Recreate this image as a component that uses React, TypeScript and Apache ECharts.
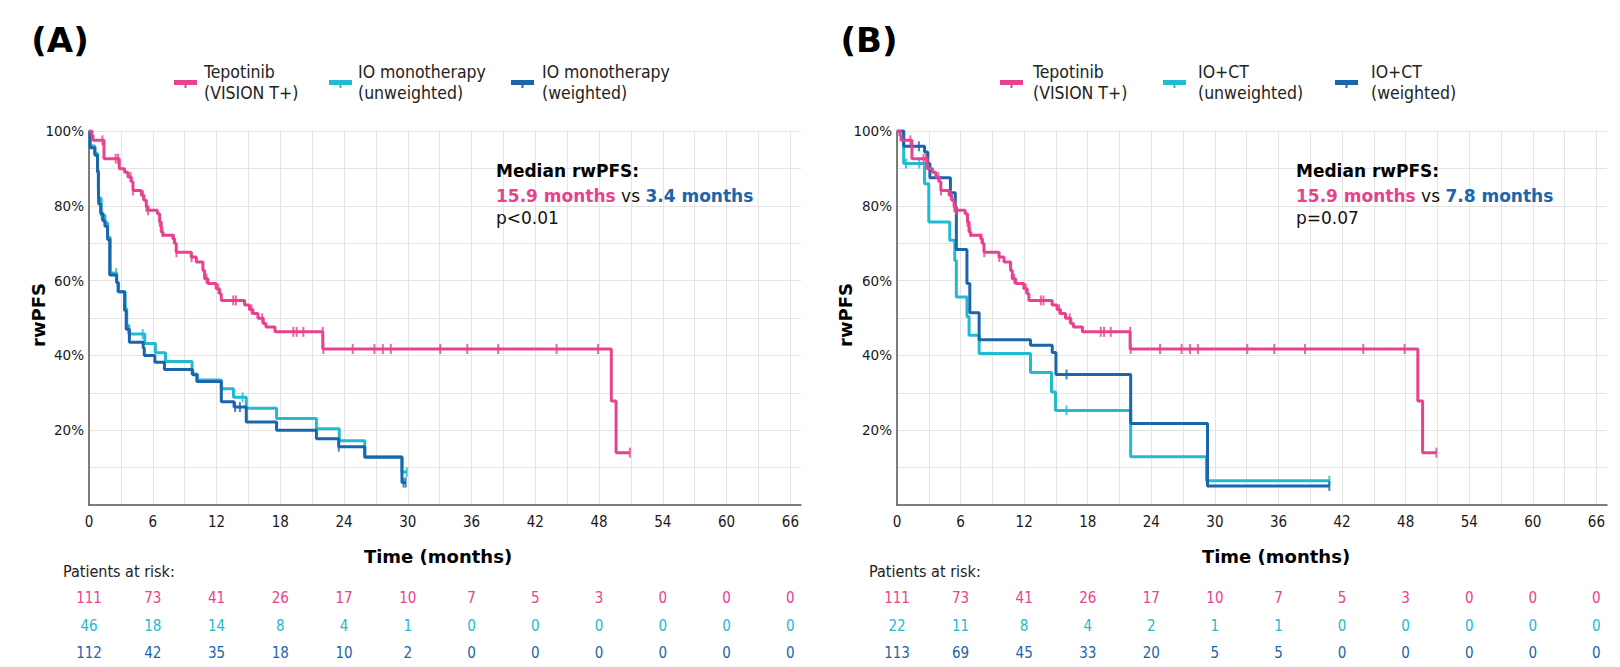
import React, { useEffect, useRef } from 'react';
import * as echarts from 'echarts';

// ---------- colours ----------
const PINK = '#E8418F';
const TEAL = '#22BAD0';
const BLUE = '#1B65AD';

// ---------- Tepotinib (VISION T+) : same curve in both panels ----------
const tepoTime = [0, 0.28, 0.38, 1.41, 2.85, 3.35, 3.67, 3.98, 4.14, 4.92, 5.17, 5.39, 5.55, 6.43, 6.65, 6.8, 6.96, 7.9, 8.06, 8.21, 9.62, 10.1, 10.72, 10.88, 11.19, 11.97, 12.29, 12.45, 14.64, 15.1, 15.42, 15.9, 16.4, 16.65, 17.5, 22.0, 49.15, 49.6, 50.9];
const tepoSurv = [100, 98.8, 97.5, 92.6, 89.9, 89.0, 87.7, 86.4, 84.1, 82.8, 81.5, 79.7, 78.8, 77.9, 75.7, 73.0, 72.1, 71.2, 69.9, 67.6, 66.3, 65.0, 62.7, 60.5, 59.2, 57.8, 56.5, 54.7, 53.5, 52.3, 51.2, 49.9, 48.5, 47.6, 46.3, 41.7, 27.8, 14.0, 14.0];
const tepoCensorTime = [1.26, 2.51, 2.73, 3.9, 4.15, 5.09, 5.4, 5.56, 6.66, 6.91, 7.98, 8.23, 9.65, 11.06, 12.16, 13.57, 13.82, 15.3, 16.3, 19.23, 19.54, 20.17, 22.0, 22.05, 24.82, 26.86, 27.65, 28.4, 33.05, 35.6, 38.5, 44.0, 47.9, 50.9];
const tepoCensorSurv = [97.5, 92.6, 92.6, 87.7, 84.1, 82.8, 79.7, 78.8, 75.7, 73.0, 71.2, 67.6, 66.3, 60.5, 57.8, 54.7, 54.7, 52.3, 49.9, 46.3, 46.3, 46.3, 46.3, 41.7, 41.7, 41.7, 41.7, 41.7, 41.7, 41.7, 41.7, 41.7, 41.7, 14.0];

// ---------- Panel A: IO monotherapy ----------
const ioUnwTime = [0, 0.1, 0.55, 0.8, 0.9, 1.15, 1.5, 1.75, 2.0, 2.6, 2.75, 3.4, 3.55, 3.75, 5.25, 6.25, 7.2, 9.7, 10.2, 12.45, 13.6, 14.8, 17.65, 21.4, 23.55, 25.95, 29.45, 29.9];
const ioUnwSurv = [100, 96, 94, 89.5, 82, 77.5, 75.5, 71.5, 62, 59.5, 57, 52.5, 48, 45.7, 43.2, 40.7, 38.4, 35, 33.4, 31.1, 28.8, 25.9, 23.1, 20.4, 17.2, 12.9, 8.8, 8.8];
const ioUnwCensorTime = [1.2, 2.55, 5.05, 14.45, 29.9];
const ioUnwCensorSurv = [77.5, 62, 45.7, 28.8, 8.8];

const ioWTime = [0, 0.1, 0.55, 0.8, 0.88, 0.92, 1.1, 1.3, 1.5, 1.75, 1.95, 2.6, 2.75, 3.35, 3.5, 3.8, 5.1, 5.2, 6.2, 7.1, 9.75, 10.15, 12.45, 13.65, 14.8, 17.65, 21.4, 23.5, 25.95, 29.45, 29.8];
const ioWSurv = [100, 95.5, 93.5, 89, 85, 80.5, 78, 76, 74.5, 71, 61.5, 59.5, 57, 52, 47, 43.5, 42, 40, 38.2, 36.2, 34.8, 33, 27.6, 26.2, 22.2, 20, 17.7, 15.6, 12.8, 6.0, 6.0];
const ioWCensorTime = [13.75, 14.2, 23.5, 29.6, 29.8];
const ioWCensorSurv = [26.2, 26.2, 15.6, 6.0, 6.0];

// ---------- Panel B: IO+CT ----------
const ioctUnwTime = [0, 0.63, 2.6, 3.0, 4.98, 5.45, 5.6, 6.6, 6.8, 7.75, 12.6, 14.58, 14.96, 22.05, 29.2, 40.8];
const ioctUnwSurv = [100, 91.3, 85.9, 75.7, 70.8, 65.4, 55.6, 50.4, 45.4, 40.5, 35.4, 30.2, 25.3, 12.9, 6.5, 6.5];
const ioctUnwCensorTime = [0.85, 2.1, 16.0, 40.8];
const ioctUnwCensorSurv = [91.3, 91.3, 25.3, 6.5];

const ioctWTime = [0, 0.63, 2.6, 2.9, 3.1, 5.04, 5.5, 5.6, 6.6, 6.87, 7.75, 12.6, 14.65, 15.0, 22.05, 29.3, 40.8];
const ioctWSurv = [100, 95.9, 94.4, 91.3, 87.5, 83.5, 79.7, 68.3, 59.2, 51.4, 44.2, 42.7, 40.8, 34.9, 21.8, 5.1, 5.1];
const ioctWCensorTime = [2.07, 16.0, 40.8];
const ioctWCensorSurv = [95.9, 34.9, 5.1];

// ---------- axes & risk tables ----------
const riskMonths = [0, 6, 12, 18, 24, 30, 36, 42, 48, 54, 60, 66];
const riskA_tepo = [111, 73, 41, 26, 17, 10, 7, 5, 3, 0, 0, 0];
const riskA_unw = [46, 18, 14, 8, 4, 1, 0, 0, 0, 0, 0, 0];
const riskA_w = [112, 42, 35, 18, 10, 2, 0, 0, 0, 0, 0, 0];
const riskB_tepo = [111, 73, 41, 26, 17, 10, 7, 5, 3, 0, 0, 0];
const riskB_unw = [22, 11, 8, 4, 2, 1, 1, 0, 0, 0, 0, 0];
const riskB_w = [113, 69, 45, 33, 20, 5, 5, 0, 0, 0, 0, 0];

const legendA = ['Tepotinib\n(VISION T+)', 'IO monotherapy\n(unweighted)', 'IO monotherapy\n(weighted)'];
const legendB = ['Tepotinib\n(VISION T+)', 'IO+CT\n(unweighted)', 'IO+CT\n(weighted)'];

const FONT = "'DejaVu Sans', Verdana, sans-serif";
const FONT_C = "'DejaVu Sans Condensed', 'DejaVu Sans', sans-serif";

const zip = (t: number[], s: number[]) => t.map((x, i) => [x, s[i]]);

function App() {
  const ref = useRef<HTMLDivElement>(null);
  useEffect(() => {
    if (!ref.current) return;
    const chart = echarts.init(ref.current, undefined, { renderer: 'svg' });

    const xAxis = (gridIndex: number) => ({
      type: 'value',
      gridIndex,
      min: 0,
      max: 67,
      interval: 3,
      axisLine: { show: true, onZero: false, lineStyle: { color: '#555', width: 1.5 } },
      axisTick: { show: false },
      axisLabel: {
        formatter: (v: number) => (v % 6 === 0 ? String(v) : ''),
        fontFamily: FONT_C,
        fontSize: 15,
        color: '#1a1a1a',
        margin: 9,
        showMaxLabel: false,
      },
      splitLine: { show: true, showMaxLine: false, lineStyle: { color: '#e4e4e4', width: 1 } },
    });
    const yAxis = (gridIndex: number) => ({
      type: 'value',
      gridIndex,
      min: 0,
      max: 100,
      interval: 10,
      axisLine: { show: true, lineStyle: { color: '#555', width: 1.5 } },
      axisTick: { show: false },
      axisLabel: {
        formatter: (v: number) => (v % 20 === 0 && v > 0 ? v + '%' : ''),
        fontFamily: FONT,
        fontSize: 13.5,
        color: '#1a1a1a',
        margin: 5,
      },
      splitLine: { show: true, lineStyle: { color: '#e4e4e4', width: 1 } },
    });

    const curve = (data: number[][], color: string, idx: number, z: number) => ({
      type: 'line',
      xAxisIndex: idx,
      yAxisIndex: idx,
      data,
      step: 'end',
      showSymbol: false,
      symbol: 'none',
      lineStyle: { color, width: 3 },
      z,
      silent: true,
    });
    const censor = (data: number[][], color: string, idx: number, z: number) => ({
      type: 'scatter',
      xAxisIndex: idx,
      yAxisIndex: idx,
      data,
      symbol: 'rect',
      symbolSize: [2, 10],
      itemStyle: { color },
      z,
      silent: true,
    });

    chart.setOption({
      animation: false,
      grid: [
        { left: 89, top: 131, width: 712, height: 374 },
        { left: 897, top: 131, width: 710, height: 374 },
      ],
      xAxis: [xAxis(0), xAxis(1)],
      yAxis: [yAxis(0), yAxis(1)],
      series: [
        curve(zip(ioUnwTime, ioUnwSurv), TEAL, 0, 2),
        censor(zip(ioUnwCensorTime, ioUnwCensorSurv), TEAL, 0, 2),
        curve(zip(ioWTime, ioWSurv), BLUE, 0, 3),
        censor(zip(ioWCensorTime, ioWCensorSurv), BLUE, 0, 3),
        curve(zip(tepoTime, tepoSurv), PINK, 0, 4),
        censor(zip(tepoCensorTime, tepoCensorSurv), PINK, 0, 4),
        curve(zip(ioctUnwTime, ioctUnwSurv), TEAL, 1, 2),
        censor(zip(ioctUnwCensorTime, ioctUnwCensorSurv), TEAL, 1, 2),
        curve(zip(ioctWTime, ioctWSurv), BLUE, 1, 3),
        censor(zip(ioctWCensorTime, ioctWCensorSurv), BLUE, 1, 3),
        curve(zip(tepoTime, tepoSurv), PINK, 1, 4),
        censor(zip(tepoCensorTime, tepoCensorSurv), PINK, 1, 4),
      ],
    });

    const g: any[] = [];
    const txt = (x: number, y: number, text: string, opts: any = {}) =>
      g.push({
        type: 'text',
        x,
        y,
        rotation: opts.rotation || 0,
        style: {
          text,
          fill: opts.fill || '#111',
          fontFamily: opts.fontFamily || FONT_C,
          fontSize: opts.fontSize || 15,
          fontWeight: opts.fontWeight || 'normal',
          align: opts.align || 'left',
          verticalAlign: opts.verticalAlign || 'middle',
          lineHeight: opts.lineHeight,
          rich: opts.rich,
        },
      });

    const panels = [
      {
        idx: 0, label: '(A)', labelX: 60, legend: legendA, legendX: [174, 329, 511], legendTextX: [204, 358, 542],
        annX: 496, p: 'p<0.01', cmp: '3.4 months', yNameX: 38, xNameX: 438, parX: 63,
        risk: [riskA_tepo, riskA_unw, riskA_w],
      },
      {
        idx: 1, label: '(B)', labelX: 869, legend: legendB, legendX: [1000, 1163, 1335], legendTextX: [1033, 1198, 1371],
        annX: 1296, p: 'p=0.07', cmp: '7.8 months', yNameX: 845, xNameX: 1276, parX: 869,
        risk: [riskB_tepo, riskB_unw, riskB_w],
      },
    ];
    const colors = [PINK, TEAL, BLUE];
    const riskY = [598, 626, 653];

    panels.forEach((p) => {
      txt(p.labelX, 40, p.label, { fontFamily: FONT, fontSize: 34, fontWeight: 'bold', align: 'center', fill: '#000' });
      p.legend.forEach((name, i) => {
        g.push({ type: 'rect', shape: { x: p.legendX[i], y: 80, width: 23, height: 5 }, style: { fill: colors[i] } });
        g.push({ type: 'rect', shape: { x: p.legendX[i] + 10.5, y: 84, width: 2, height: 4 }, style: { fill: colors[i] } });
        txt(p.legendTextX[i], 82.5, name, { fontSize: 17.5, lineHeight: 21, fill: '#222' });
      });
      txt(p.annX, 171, 'Median rwPFS:', { fontFamily: FONT, fontSize: 17, fontWeight: 'bold', fill: '#000' });
      txt(p.annX, 196, '{a|15.9 months} {v|vs} {b|' + p.cmp + '}', {
        fontFamily: FONT,
        fontSize: 17,
        rich: {
          a: { fill: PINK, fontFamily: FONT, fontSize: 17, fontWeight: 'bold' },
          v: { fill: '#111', fontFamily: FONT, fontSize: 17 },
          b: { fill: BLUE, fontFamily: FONT, fontSize: 17, fontWeight: 'bold' },
        },
      });
      txt(p.annX, 217.5, p.p, { fontFamily: FONT, fontSize: 17, fill: '#111' });
      txt(p.yNameX, 315, 'rwPFS', { fontFamily: FONT, fontSize: 18, fontWeight: 'bold', align: 'center', rotation: Math.PI / 2, fill: '#000' });
      txt(p.xNameX, 556, 'Time (months)', { fontFamily: FONT, fontSize: 18, fontWeight: 'bold', align: 'center', fill: '#000' });
      txt(p.parX, 571, 'Patients at risk:', { fontSize: 16, fill: '#222' });
      p.risk.forEach((row, r) => {
        row.forEach((v, i) => {
          const px = chart.convertToPixel({ xAxisIndex: p.idx }, riskMonths[i]) as number;
          txt(px, riskY[r], String(v), { fontSize: 15, align: 'center', fill: colors[r] });
        });
      });
    });

    chart.setOption({ graphic: g });

    return () => chart.dispose();
  }, []);

  return <div ref={ref} style={{ position: 'absolute', left: 0, top: 0, width: 1620, height: 667 }} />;
}

export default App;
